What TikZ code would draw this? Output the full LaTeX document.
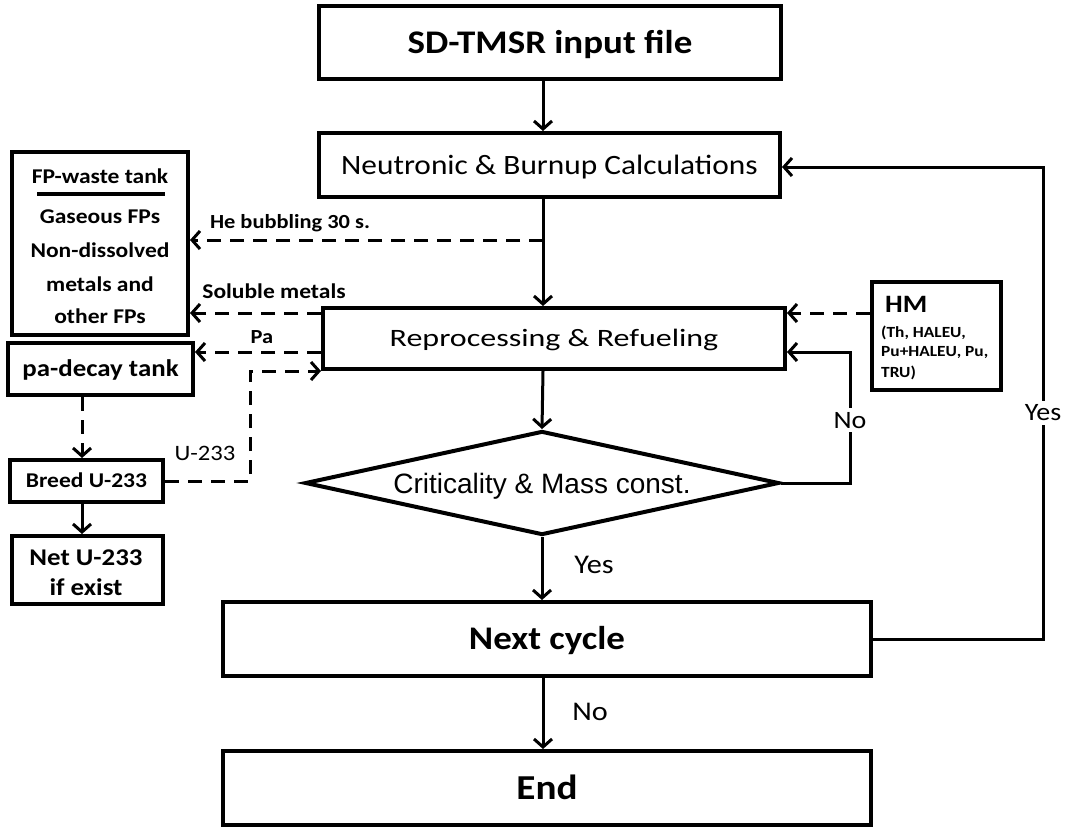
\documentclass[tikz,border=0pt]{standalone}
\usepackage{fontspec}
\setmainfont{Carlito}[FakeStretch=1.12]
\newfontfamily\repfont{Carlito}[FakeStretch=1.28]
\newfontfamily\arialf{Liberation Sans}
\usetikzlibrary{arrows.meta,shapes.geometric}
\begin{document}
\begin{tikzpicture}[x=1pt,y=-1pt,
  box/.style={draw, line width=4pt, inner sep=0pt, text depth=0pt},
  lbl/.style={inner sep=0pt, anchor=base},
  lblw/.style={inner sep=0pt, anchor=base west},
  arr/.style={line width=3pt, -{Straight Barb[length=8pt,width=18pt]}},
  darr/.style={arr, dash pattern=on 14pt off 9pt},
  brk/.style={fill=white, inner sep=4pt},
  fs/.style={font=\fontsize{#1}{#1}\selectfont},
  fb/.style={font=\fontsize{#1}{#1}\selectfont\bfseries},
]
\useasboundingbox[fill=white] (0,0) rectangle (1071,828);

% main column
\node[box, minimum width=462, minimum height=73, fb=33, text height=21pt] (inp) at (550,42.5) {SD-TMSR input file};
\node[box, minimum width=461, minimum height=64, fs=28, text height=18pt] (neu) at (549.5,165) {Neutronic \& Burnup Calculations};
\node[box, minimum width=462, minimum height=61, font=\repfont\fontsize{25}{25}\selectfont, text height=16pt] (rep) at (554,338.5) {Reprocessing \& Refueling};
\node[draw, diamond, aspect=4.5, line width=4pt, minimum width=474, minimum height=104, inner sep=0pt,
      font=\arialf\fontsize{28}{28}\selectfont, text height=20pt, text depth=0pt] (dia) at (542,483) {Criticality \& Mass const.};
\node[box, minimum width=648, minimum height=74, fb=33, text height=21pt] (nxt) at (547,639) {Next cycle};
\node[box, minimum width=648, minimum height=74, fb=35, text height=22.5pt] (end) at (547,788) {End};

% left column
\node[box, minimum width=176, minimum height=183] (fp) at (100,243.5) {};
\node[lbl, fb=21] (fpt) at (100,183) {FP-waste tank};
\coordinate (rl) at (37,194);
\coordinate (rr) at (165,194);
\draw[line width=3.5pt] (rl) -- (rr);
\node[lbl, fb=21] (fp1) at (100,223) {Gaseous FPs};
\node[lbl, fb=21] (fp2) at (100,257) {Non-dissolved};
\node[lbl, fb=21] (fp3) at (100,291) {metals and};
\node[lbl, fb=21] (fp4) at (100,323) {other FPs};

\node[box, minimum width=185, minimum height=52, fb=24, text height=15.5pt] (pa) at (100.5,369) {pa-decay tank};
\node[box, minimum width=153, minimum height=42, fb=21, text height=13.5pt] (breed) at (86.5,481) {Breed U-233};
\node[box, minimum width=151, minimum height=68] (net) at (87.5,570) {};
\node[lbl, fb=24] (net1) at (86,565) {Net U-233};
\node[lbl, fb=24] (net2) at (86,595) {if exist};

% HM box
\node[box, minimum width=129, minimum height=108] (hm) at (936.5,336) {};
\node[lblw, fb=25] (hmt) at (885,312) {HM};
\node[lblw, fb=15.5] (hm1) at (881,337) {(Th, HALEU,};
\node[lblw, fb=15.5] (hm2) at (881,356) {Pu+HALEU, Pu,};
\node[lblw, fb=15.5] (hm3) at (881,377) {TRU)};

% helper coordinates
\coordinate (ax) at (543,0);
\coordinate (bub) at (543,240);
\coordinate (ysol) at (0,313);
\coordinate (ypa) at (0,352);
\coordinate (xu) at (250,0);
\coordinate (xpb) at (82,0);
\coordinate (xno) at (850,0);
\coordinate (xyes) at (1043,0);
\coordinate (yyes) at (0,167);

% main connectors
\draw[arr] (inp.south -| ax) -- (neu.north -| ax);
\draw[arr] (neu.south -| ax) -- (rep.north -| ax);
\draw[arr] (rep.south -| ax) -- (dia.north);
\draw[arr] (dia.south) -- (nxt.north -| dia.south);
\draw[arr] (nxt.south -| ax) -- (end.north -| ax);

% loops
\draw[arr] (dia.east) -- (dia.east -| xno) -- node[brk, pos=0.48, fs=25] (no1) {No} (xno |- ypa) -- (rep.east |- ypa);
\draw[arr] (nxt.east) -- (nxt.east -| xyes) -- node[brk, pos=0.479, fs=25] (yes1) {Yes} (xyes |- yyes) -- (neu.east |- yyes);

% dashed flows
\draw[darr] (bub) -- (fp.east |- bub);
\draw[darr] (rep.west |- ysol) -- (fp.east |- ysol);
\draw[darr] (rep.west |- ypa) -- (pa.east |- ypa);
\draw[darr] (hm.west |- ysol) -- (rep.east |- ysol);
\draw[darr] (breed.east) -- (breed.east -| xu) -- (rep.south west -| xu) -- (rep.south west);
\draw[darr] (pa.south -| xpb) -- (breed.north -| xpb);
\draw[arr] (breed.south -| xpb) -- (net.north -| xpb);

% connector labels
\node[lbl, fb=20] (lbub) at (290,228) {He bubbling 30 s.};
\node[lbl, fb=21] (lsol) at (274,298) {Soluble metals};
\node[lbl, fb=20] (lpa) at (262,343) {Pa};
\node[lbl, fs=22] (lu) at (205,460) {U-233};
\node[lbl, fs=27] (lyes) at (594,573) {Yes};
\node[lbl, fs=27] (lno) at (590,720) {No};
\end{tikzpicture}
\end{document}
